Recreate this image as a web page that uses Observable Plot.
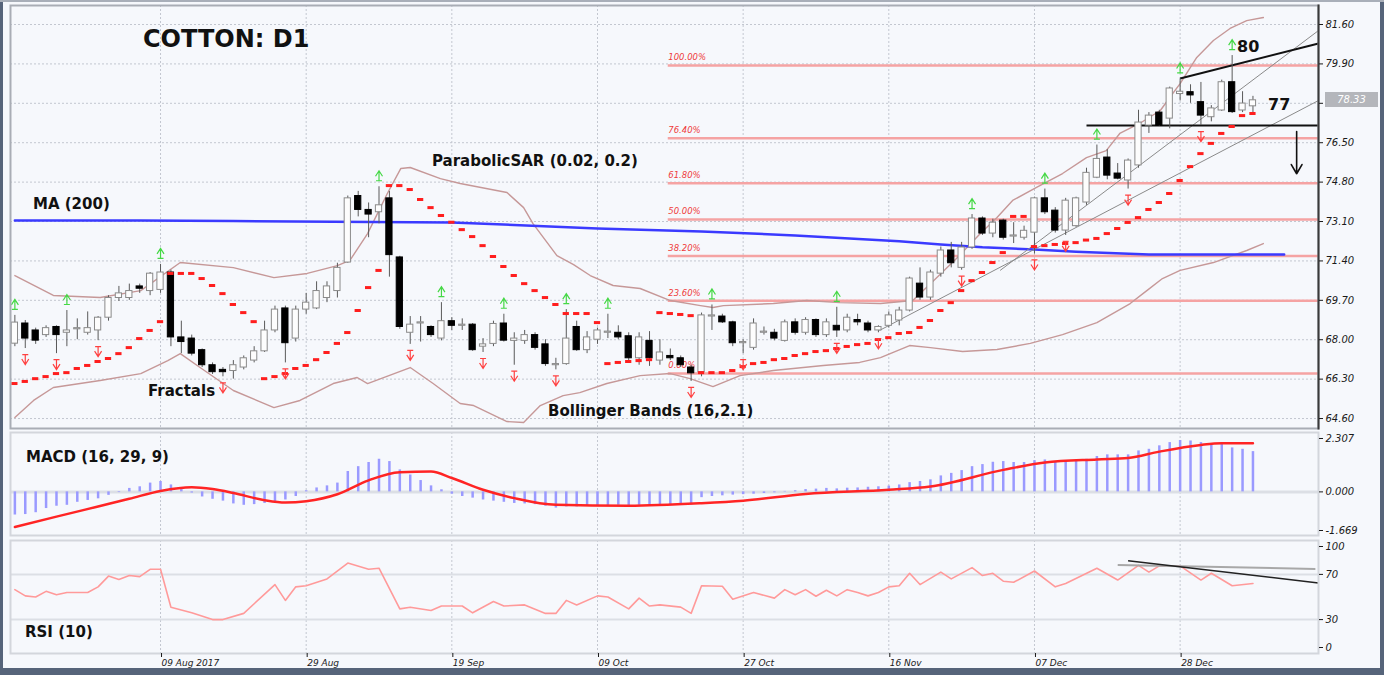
<!DOCTYPE html>
<html><head><meta charset="utf-8">
<script src="https://cdn.jsdelivr.net/npm/d3@7"></script>
<script src="https://cdn.jsdelivr.net/npm/@observablehq/plot@0.6"></script>
<style>
body{margin:0;background:#fff;}
#wrap{position:relative;width:1384px;height:675px;background:#f6f8fc;overflow:hidden;font-family:"DejaVu Sans",sans-serif;}
.chart{position:absolute;left:0;}
.lbl{position:absolute;font-weight:bold;font-size:15px;line-height:1;color:#111;white-space:nowrap;}
.bd{position:absolute;background:#56647a;}
</style></head><body>
<div id="wrap">
  <div id="c-main" class="chart" style="top:0"></div>
  <div id="c-macd" class="chart" style="top:430px"></div>
  <div id="c-rsi" class="chart" style="top:538px"></div>
  <div class="lbl" style="left:143px;top:27px;font-size:24px;">COTTON: D1</div>
  <div class="lbl" style="left:33px;top:197px;">MA (200)</div>
  <div class="lbl" style="left:432px;top:154px;">ParabolicSAR (0.02, 0.2)</div>
  <div class="lbl" style="left:148px;top:384px;">Fractals</div>
  <div class="lbl" style="left:548px;top:404px;">Bollinger Bands (16,2.1)</div>
  <div class="lbl" style="left:1237px;top:39px;font-size:16px;">80</div>
  <div class="lbl" style="left:1268px;top:97px;font-size:16px;">77</div>
  <div class="lbl" style="left:26px;top:450px;">MACD (16, 29, 9)</div>
  <div class="lbl" style="left:25px;top:625px;">RSI (10)</div>
  <div id="pricebox" style="position:absolute;left:1325px;width:53px;height:15px;background:#b4b6bb;color:#fff;font-size:10px;font-style:italic;line-height:15px;text-align:center;"></div>
  <div class="bd" style="left:0;top:0;width:3px;height:675px;"></div>
  <div class="bd" style="right:0;top:0;width:4px;height:675px;"></div>
  <div class="bd" style="left:0;bottom:0;width:1384px;height:7px;"></div>
  <div style="position:absolute;left:0;top:0;width:1384px;height:2px;background:#a9afb9;"></div>
</div>
<script>
// ---------- data ----------
const candleOpen = [67.83,68.70,68.40,68.20,68.55,68.30,68.45,68.30,68.40,68.95,
69.80,69.80,70.30,70.10,70.15,70.90,68.10,68.05,67.55,66.90,
66.70,66.65,66.80,67.10,67.50,68.40,69.35,68.05,69.30,69.35,
69.80,70.10,71.33,74.20,73.60,73.50,74.10,71.55,68.30,68.70,
68.55,68.05,68.80,68.60,68.65,67.70,67.82,68.70,67.95,67.95,
68.20,67.80,66.90,66.95,68.55,67.55,68.00,68.30,68.30,68.15,
67.20,67.95,67.10,67.30,67.20,66.80,66.60,69.00,69.00,68.75,
67.85,67.65,68.30,68.30,67.95,68.75,68.30,68.85,68.20,68.60,
68.40,68.85,68.70,68.40,68.60,68.83,69.26,70.42,69.82,70.85,
71.85,71.10,71.98,73.23,72.58,73.14,72.45,72.40,72.62,74.10,
73.57,72.71,72.90,73.92,74.99,75.86,75.17,74.87,75.52,77.24,
77.80,77.54,78.60,78.68,78.25,77.60,77.89,79.11,77.89,78.07];
const candleHigh = [69.05,68.83,68.50,68.60,68.60,69.26,68.90,69.20,69.00,69.90,
70.30,70.40,70.40,70.90,71.25,71.00,68.80,68.20,67.60,67.00,
66.80,67.10,67.30,67.70,68.80,69.45,69.45,69.45,70.00,70.50,
70.50,71.30,74.20,74.40,73.90,74.60,74.40,71.60,69.00,69.00,
68.60,69.60,68.95,68.90,68.70,68.05,68.80,69.10,68.30,68.40,
68.30,68.00,67.20,69.30,68.80,68.35,68.50,69.10,68.60,68.30,
68.30,68.35,68.00,67.60,67.30,66.90,69.15,69.50,69.10,68.80,
68.00,68.90,68.55,68.45,68.85,68.90,68.95,68.90,68.90,69.40,
69.10,69.10,68.80,68.60,69.20,69.40,70.70,71.10,71.00,72.00,
72.20,72.20,73.40,73.30,73.20,73.20,73.05,72.90,74.15,74.50,
73.70,74.10,74.15,75.40,76.40,76.20,75.60,75.80,77.90,77.80,
77.90,78.90,79.25,79.00,79.10,78.10,79.20,80.26,78.70,78.50];
const candleLow = [67.70,67.62,67.80,68.10,67.40,67.70,68.00,68.20,67.96,68.80,
69.65,69.70,70.00,69.90,70.00,67.70,67.40,67.30,66.80,66.50,
66.40,66.30,66.70,67.00,67.45,68.30,67.00,67.90,69.10,69.30,
69.60,69.80,71.30,73.30,72.40,73.00,70.70,68.45,67.80,67.90,
68.10,67.95,68.40,68.40,67.50,67.45,67.70,67.90,66.90,67.80,
67.55,66.85,66.70,66.90,67.50,67.40,67.80,68.05,68.00,67.10,
66.90,66.85,66.90,67.10,66.80,66.20,66.40,68.40,68.70,67.70,
67.40,67.55,68.20,67.95,67.90,68.20,68.20,68.10,68.10,68.10,
68.30,68.60,68.30,68.30,68.50,68.60,69.20,69.70,69.70,70.70,
71.10,71.00,71.90,72.50,72.40,72.30,72.15,72.30,71.70,73.40,
72.60,72.50,72.85,73.80,74.95,74.90,74.90,74.50,75.40,76.90,
77.20,77.10,78.30,78.20,77.24,77.40,77.85,77.76,77.80,77.80];
const candleClose = [68.74,68.05,67.96,68.50,68.20,68.40,68.50,68.50,68.95,69.80,
70.00,70.10,70.20,70.85,70.90,68.10,67.90,67.40,66.90,66.60,
66.60,66.90,67.20,67.50,68.40,69.30,67.85,69.30,69.60,70.10,
70.30,71.10,74.10,73.60,73.40,73.80,71.65,68.55,68.65,68.75,
68.20,68.80,68.60,68.65,67.55,67.80,68.68,67.96,68.05,68.20,
67.65,66.95,66.95,68.05,67.55,68.10,68.40,68.35,68.10,67.20,
68.10,67.20,67.45,67.20,66.90,66.55,69.05,69.05,68.75,67.85,
67.90,68.70,68.35,68.05,68.75,68.30,68.85,68.20,68.75,68.40,
68.95,68.75,68.40,68.55,69.05,69.26,70.64,69.82,70.90,71.85,
71.30,71.98,73.23,72.58,73.05,72.40,72.50,72.70,74.10,73.50,
72.71,74.00,74.10,75.20,75.80,75.08,74.95,75.73,77.37,77.67,
77.24,78.84,78.70,78.54,77.67,77.98,79.11,77.82,78.19,78.33];
const sarValues = [66.11,66.20,66.32,66.41,66.54,66.58,66.76,66.89,67.06,67.19,
67.40,67.66,68.05,68.40,68.78,70.86,70.86,70.86,70.64,70.34,
69.99,69.52,69.17,68.78,66.32,66.41,66.54,66.76,66.89,67.14,
67.45,67.84,68.31,69.26,70.25,70.99,74.65,74.65,74.48,74.05,
73.70,73.36,73.07,72.75,72.45,72.06,71.59,71.16,70.77,70.42,
70.12,69.82,69.52,69.13,69.13,69.13,68.74,66.97,67.02,67.06,
67.10,67.14,69.17,69.13,69.09,69.04,66.58,66.58,66.58,66.67,
66.84,66.97,67.02,67.14,67.19,67.32,67.40,67.49,67.53,67.62,
67.71,67.79,67.84,68.01,68.09,68.27,68.31,68.53,68.83,69.26,
69.60,70.12,70.55,70.90,71.33,71.76,73.32,73.32,72.02,72.06,
72.11,72.15,72.19,72.30,72.37,72.58,72.80,73.06,73.27,73.62,
73.92,74.31,74.87,75.47,76.03,76.47,76.90,77.20,77.67,77.76];
const fractalUpIdx = [0,5,14,35,41,47,53,57,67,79,92,99,104,112,117];
const fractalDownIdx = [1,4,8,20,26,38,45,48,52,65,70,79,83,91,98,101,107,114];
const maIdx =    [0,12,21,42,56,66,75,85,89,93,98,102,109,122];
const maValues = [73.14,73.14,73.12,73.06,72.80,72.67,72.50,72.25,72.11,71.99,71.89,71.80,71.68,71.68];
const bbUpperIdx = [0,3.7,8.2,12.1,15.9,21,24.9,28.1,31,32.2,33.9,35.8,37.1,38,40.9,42.8,47.3,48.9,49.8,52.1,53.7,55.3,57.5,60.1,63,65.9,67.1,68.1,72.9,76.1,79.3,83.2,86.3,88,90.6,92.8,94.4,95.9,98.2,100.7,103,104.9,106.2,108.1,110.1,111,112,113.6,115.2,116.8,118.4,120];
const bbUpperValues = [70.77,69.91,69.82,70.12,71.33,71.11,70.68,70.86,71.20,71.42,72.58,74.31,75.39,75.43,74.95,74.74,74.35,73.70,73.01,71.63,71.24,70.77,70.34,70.21,69.69,69.47,69.39,69.47,69.56,69.69,69.60,69.56,69.69,70.42,71.55,72.58,73.27,74.01,74.57,75.17,75.86,76.16,76.90,77.33,77.89,78.45,79.05,80.18,80.91,81.43,81.77,81.90];
const bbLowerIdx = [0,1.8,3.7,8.2,12.1,14.7,15.9,17.8,21,24.9,27.4,30.6,32.9,33.9,38,40.2,42.8,44.1,47.3,48.9,50.5,52.7,54.3,56.9,60.1,63,64.9,67.1,69.7,72.9,77.7,81.2,83.2,86,88,91.1,94.4,97.6,100.7,104,107.2,108.8,110.3,112,115.2,118.4,120];
const bbLowerValues = [64.64,65.38,65.94,66.24,66.54,67.10,67.40,66.80,65.81,65.07,65.38,66.11,66.37,66.11,66.80,66.11,65.25,65.16,64.47,64.43,65.16,65.59,65.72,66.11,66.45,66.54,66.32,65.98,66.45,66.67,66.89,67.02,67.23,67.75,67.66,67.49,67.58,67.84,68.22,68.74,69.56,70.12,70.64,70.99,71.33,71.85,72.15];
const fibLevels = [0, 23.6, 38.2, 50, 61.8, 76.4, 100];
const fibLow = 66.54, fibHigh = 79.83, fibStartIdx = 62.8;
const blackTrend = [{i1:112,p1:79.27,i2:125.3,p2:80.78},{i1:103,p1:77.24,i2:125.3,p2:77.24}];
const grayTrend = [{i1:94.7,p1:70.99,i2:125.3,p2:81.34},{i1:83.1,p1:68.40,i2:125.3,p2:78.32}];
const downArrow = [{i:123.2, from:76.98, to:75.16}];
const priceTicks = [64.6,66.3,68.0,69.7,71.4,73.1,74.8,76.5,78.2,79.9,81.6];
const hiddenPriceTick = 78.2; // covered by the last-price marker in the reference
const dateTickIdx = [14,28,42,56,70,84,98,112];
const dateLabels = ["09 Aug 2017","29 Aug","19 Sep","09 Oct","27 Oct","16 Nov","07 Dec","28 Dec"];
const macdHist = [-1.0,-0.98,-0.9,-0.72,-0.62,-0.58,-0.45,-0.37,-0.3,-0.15,
-0.03,0.15,0.22,0.38,0.45,0.3,0.1,-0.05,-0.22,-0.32,
-0.4,-0.52,-0.58,-0.55,-0.5,-0.45,-0.35,-0.2,0.05,0.17,
0.26,0.38,0.88,1.09,1.27,1.41,1.31,0.95,0.73,0.49,
0.26,0.09,-0.1,-0.2,-0.27,-0.35,-0.4,-0.45,-0.5,-0.52,
-0.55,-0.62,-0.7,-0.65,-0.65,-0.62,-0.6,-0.6,-0.58,-0.6,
-0.58,-0.57,-0.56,-0.55,-0.58,-0.56,-0.25,-0.2,-0.17,-0.14,
-0.12,-0.1,-0.07,-0.04,0.02,0.05,0.1,0.12,0.15,0.13,
0.16,0.17,0.2,0.22,0.25,0.3,0.4,0.45,0.52,0.69,
0.8,0.92,1.09,1.18,1.28,1.31,1.27,1.27,1.35,1.38,
1.31,1.31,1.38,1.41,1.53,1.6,1.6,1.6,1.77,1.84,
1.99,2.13,2.22,2.2,2.13,2.03,2.08,1.9,1.84,1.74];
const macdSignalIdx = [0,4,8,11,14,17,19,21,24,26,28,31,34,37,40,42,45,48,52,59,66,70,76,84,88,95,99,104,107,110,114,116,119];
const macdSignalValues = [-1.52,-1.07,-0.63,-0.3,0.04,0.2,0.12,-0.05,-0.36,-0.46,-0.4,-0.1,0.5,0.85,0.88,0.6,0.09,-0.27,-0.56,-0.6,-0.49,-0.38,-0.09,0.09,0.23,0.95,1.27,1.4,1.46,1.74,2.03,2.1,2.1];
const rsiIdx = [0,1,2,3,4,5,7,8,9,10,11,12,13,14,15,17,19,20,22,23,25,26,27,28,30,32,34,35,37,38,40,41,43,44,46,47,49,51,52,53,54,56,57,59,60,61,62,64,65,66,68,69,71,73,74,75,76,77,78,79,80,81,82,83,84,85,86,87,89,90,92,93,94,95,96,98,100,101,104,106,108,109,110,112,114,115,117,119];
const rsiValues = [56.5,51,50,55,52,54,54,59,68.5,65.5,69,68,74.5,74.5,41,36,30,30,35.5,44,61,47,59,60,66,80,74.5,75.5,39.5,41,38,42,42,36,46,42,43,35.5,35.5,47,43,51,50,39.5,49,42,43,41,35.5,60,59.5,48,54,49,56.5,52,56.5,50.7,56,51,56.5,54,51,54,59,60,71,61,72,66,76,69,71,64,63,73,59,62,75.5,65,78,72,77.5,77.5,65,71,60,62];
const rsiBlackTrend = [{i1:107,v1:82,i2:125.3,v2:62.4}];
const rsiGrayTrend = [{i1:106,v1:78.4,i2:125,v2:74.8}];
const macdTicks = [2.307, 0, -1.669];

// ---------- derived tables ----------
const xDomain = [-0.42, 125.3];
const candles = candleOpen.map((o, i) => ({i, o, h: candleHigh[i], l: candleLow[i], c: candleClose[i], up: candleClose[i] >= o}));
const sarRows = sarValues.map((v, i) => ({i, v}));
const fracUp = fractalUpIdx.map(i => candles[i]);
const fracDown = fractalDownIdx.map(i => candles[i]);
const maLine = maIdx.map((i, k) => ({i, v: maValues[k]}));
const bbUpper = bbUpperIdx.map((i, k) => ({i, v: bbUpperValues[k]}));
const bbLower = bbLowerIdx.map((i, k) => ({i, v: bbLowerValues[k]}));
const fibRows = fibLevels.map(l => ({price: fibLow + (fibHigh - fibLow) * l / 100, label: l.toFixed(2) + "%"}));
const macdRows = macdHist.map((v, i) => ({i, v}));
const signalRows = macdSignalIdx.map((i, k) => ({i, v: macdSignalValues[k]}));
const rsiRows = rsiIdx.map((i, k) => ({i, v: rsiValues[k]}));

const upSym = {draw(ctx){ctx.moveTo(-3.5,0.5);ctx.lineTo(0,-5);ctx.lineTo(3.5,0.5);ctx.moveTo(0,-5);ctx.lineTo(0,5);ctx.moveTo(-3,5);ctx.lineTo(3,5);}};
const downSym = {draw(ctx){ctx.moveTo(-3.5,-0.5);ctx.lineTo(0,5);ctx.lineTo(3.5,-0.5);ctx.moveTo(0,5);ctx.lineTo(0,-5);ctx.moveTo(-3,-5);ctx.lineTo(3,-5);}};

const baseStyle = {background: "transparent", fontFamily: "DejaVu Sans, sans-serif", fontSize: "10px", fontStyle: "italic", color: "#1a1a1a", overflow: "visible"};
const dotted = {stroke: "#c3c7d0", strokeDasharray: "2,2"};

// ---------- main panel ----------
const main = Plot.plot({
  width: 1384, height: 430, marginLeft: 10, marginRight: 66, marginTop: 5, marginBottom: 2,
  x: {domain: xDomain, axis: null},
  y: {domain: [64.17, 82.42], axis: null},
  style: baseStyle,
  marks: [
    Plot.ruleY(priceTicks, dotted),
    Plot.ruleX(dateTickIdx, dotted),
    Plot.ruleY(fibRows, {y: "price", x1: () => fibStartIdx, x2: () => xDomain[1], stroke: "#f5a3a3", strokeWidth: 2.5}),
    Plot.text(fibRows, {x: () => fibStartIdx, y: "price", text: "label", dy: -8, textAnchor: "start", fill: "#ef3b3b", fontSize: 8.5, fontStyle: "italic"}),
    Plot.line(bbUpper, {x: "i", y: "v", stroke: "#c69898", strokeWidth: 1.4}),
    Plot.line(bbLower, {x: "i", y: "v", stroke: "#c69898", strokeWidth: 1.4}),
    Plot.line(maLine, {x: "i", y: "v", stroke: "#3a3aff", strokeWidth: 2.5}),
    Plot.link(grayTrend, {x1: "i1", y1: "p1", x2: "i2", y2: "p2", stroke: "#8a8a8a", strokeWidth: 1}),
    Plot.link(blackTrend, {x1: "i1", y1: "p1", x2: "i2", y2: "p2", stroke: "#111", strokeWidth: 2}),
    Plot.ruleX(candles, {x: "i", y1: "l", y2: "h", stroke: "#5a5a5a", strokeWidth: 1}),
    Plot.rect(candles, {x1: d => d.i - 0.3, x2: d => d.i + 0.3, y1: "o", y2: "c", fill: d => d.up ? "#fdfdfd" : "#000", stroke: d => d.up ? "#8a8a8a" : "#000", strokeWidth: 1}),
    Plot.ruleY(sarRows, {y: "v", x1: d => d.i - 0.3, x2: d => d.i + 0.3, stroke: "#ff1e1e", strokeWidth: 3}),
    Plot.dot(fracUp, {x: "i", y: "h", symbol: upSym, dy: -11, stroke: "#45d845", fill: "none", strokeWidth: 1.2}),
    Plot.dot(fracDown, {x: "i", y: "l", symbol: downSym, dy: 11, stroke: "#ff4040", fill: "none", strokeWidth: 1.2}),
    Plot.arrow(downArrow, {x1: "i", y1: "from", x2: "i", y2: "to", stroke: "#111", strokeWidth: 1.6, headLength: 10}),
    Plot.frame({stroke: "#a9adb5", strokeWidth: 2}),
    Plot.frame({anchor: "right", stroke: "#3a3a3a", strokeWidth: 2}),
    Plot.axisY(priceTicks, {anchor: "right", tickSize: 4, tickFormat: null, text: null, label: null}),
    Plot.axisY(priceTicks.filter(t => t !== hiddenPriceTick), {anchor: "right", tickFormat: d => d.toFixed(2), tickSize: 0, tickPadding: 7, label: null, fontStyle: "italic"})
  ]
});
document.getElementById("c-main").appendChild(main);
const yS = main.scale("y");
const lastClose = candleClose[candleClose.length - 1];
const pb = document.getElementById("pricebox");
pb.textContent = lastClose.toFixed(2);
pb.style.top = (yS.apply(lastClose) - 7.5) + "px";

// ---------- MACD panel ----------
const macd = Plot.plot({
  width: 1384, height: 107, marginLeft: 10, marginRight: 66, marginTop: 2, marginBottom: 2,
  x: {domain: xDomain, axis: null},
  y: {domain: [-1.885, 2.566], axis: null},
  style: baseStyle,
  marks: [
    Plot.ruleX(dateTickIdx, dotted),
    Plot.ruleY([0], {stroke: "#dcdfe5", strokeWidth: 3}),
    Plot.ruleX(macdRows, {x: "i", y1: () => 0, y2: "v", stroke: "#9a9aff", strokeWidth: 2.5}),
    Plot.line(signalRows, {x: "i", y: "v", stroke: "#ff2424", strokeWidth: 2.5, curve: "monotone-x"}),
    Plot.frame({stroke: "#d3d6dc", strokeWidth: 2}),
    Plot.axisY(macdTicks, {anchor: "right", tickFormat: d => d.toFixed(3), tickSize: 4, tickPadding: 3, label: null, fontStyle: "italic"})
  ]
});
document.getElementById("c-macd").appendChild(macd);

// ---------- RSI panel ----------
const rsi = Plot.plot({
  width: 1384, height: 130, marginLeft: 10, marginRight: 66, marginTop: 2, marginBottom: 15,
  x: {domain: xDomain, axis: null},
  y: {domain: [0, 100], axis: null},
  style: baseStyle,
  marks: [
    Plot.ruleX(dateTickIdx, dotted),
    Plot.ruleY([70, 30], {stroke: "#dcdfe5", strokeWidth: 2}),
    Plot.line(rsiRows, {x: "i", y: "v", stroke: "#ff9a9a", strokeWidth: 1.6}),
    Plot.link(rsiGrayTrend, {x1: "i1", y1: "v1", x2: "i2", y2: "v2", stroke: "#a8a8a8", strokeWidth: 2}),
    Plot.link(rsiBlackTrend, {x1: "i1", y1: "v1", x2: "i2", y2: "v2", stroke: "#222", strokeWidth: 1.5}),
    Plot.frame({stroke: "#d3d6dc", strokeWidth: 2}),
    Plot.axisY([70, 30], {anchor: "right", tickSize: 4, tickPadding: 3, label: null, fontStyle: "italic"}),
    Plot.axisY([100], {anchor: "right", tickSize: 4, tickPadding: 3, dy: 6, label: null, fontStyle: "italic"}),
    Plot.axisY([0], {anchor: "right", tickSize: 4, tickPadding: 3, dy: -6, label: null, fontStyle: "italic"}),
    Plot.axisX(dateTickIdx, {anchor: "bottom", tickSize: 4, tickPadding: 2, textAnchor: "start", dx: 1, fontSize: 9, fontStyle: "italic", label: null, tickFormat: d => dateLabels[dateTickIdx.indexOf(d)]})
  ]
});
document.getElementById("c-rsi").appendChild(rsi);
</script>
</body></html>
